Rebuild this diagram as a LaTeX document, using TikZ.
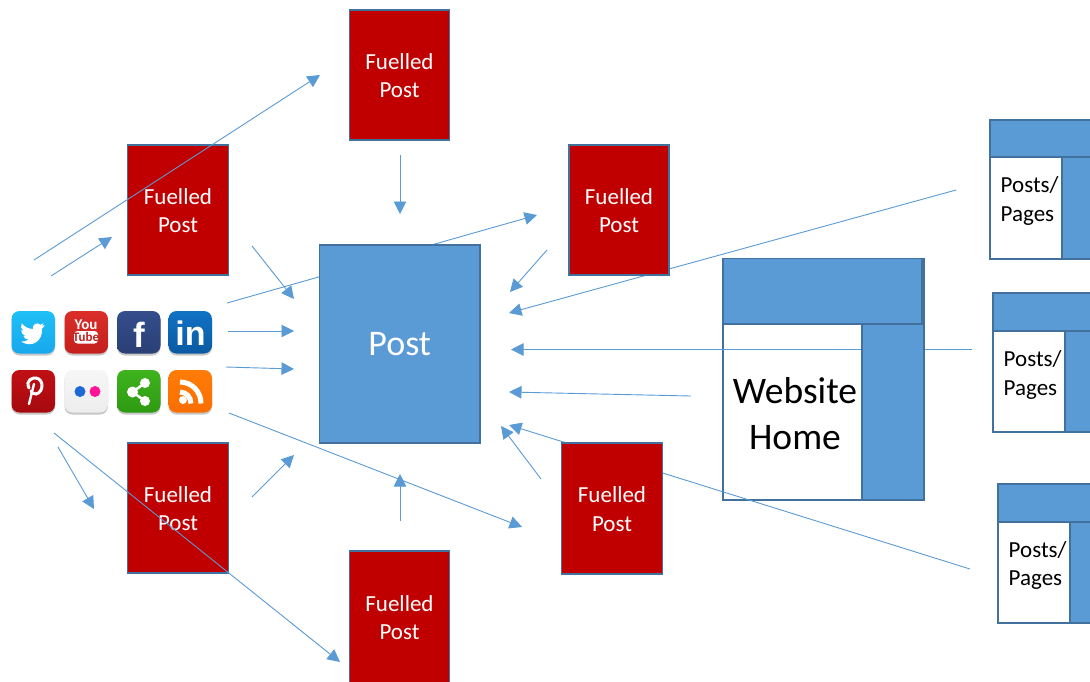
\documentclass[tikz,border=0pt]{standalone}
\usepackage{fontspec}
\setmainfont{Carlito}
\newfontfamily\iconfont{Liberation Sans}
\usetikzlibrary{arrows.meta}
\definecolor{accent}{HTML}{5B9BD5}
\definecolor{edge}{HTML}{41719C}
\definecolor{fuel}{HTML}{C00000}
\definecolor{twA}{HTML}{1FC0F8}\definecolor{twB}{HTML}{18A8EC}
\definecolor{ytA}{HTML}{DA2E29}\definecolor{ytB}{HTML}{C4201D}
\definecolor{fbA}{HTML}{344E8C}\definecolor{fbB}{HTML}{2A3F75}
\definecolor{liA}{HTML}{1172C4}\definecolor{liB}{HTML}{0A5AA2}
\definecolor{piA}{HTML}{C01015}\definecolor{piB}{HTML}{A50A0E}
\definecolor{flA}{HTML}{F6F6F6}\definecolor{flB}{HTML}{EDEDED}
\definecolor{shA}{HTML}{3FB31E}\definecolor{shB}{HTML}{2E9A12}
\definecolor{rsA}{HTML}{FF7C08}\definecolor{rsB}{HTML}{FA6E00}
\definecolor{flBlue}{HTML}{1D68D4}\definecolor{flPink}{HTML}{FF1497}
\tikzset{
  x=1pt,y=-1pt,
  box/.style={rectangle,draw=edge,line width=1.4pt,inner sep=0pt,outer sep=0pt},
  fuelled/.style={box,fill=fuel,text=white,align=center,font=\fontsize{23}{28.5}\selectfont,minimum width=100pt,minimum height=130pt},
  bluebox/.style={box,fill=accent},
  panel/.style={box},
  smalltext/.style={align=left,inner sep=0pt,font=\fontsize{23}{28.5}\selectfont},
  link/.style={draw=accent,line width=0.9pt,-{Triangle[length=12.5pt,width=12.5pt]}},
  glyph/.style={text=white,inner sep=0pt},
}
\newcommand{\fueltext}{\rule{0pt}{17.5pt}Fuelled\\Post}
% icon base: x, y (top-left), top colour, bottom colour
\newcommand{\iconbase}[4]{%
  \fill[black!22,rounded corners=8pt] (#1,#2+1.5) rectangle +(43.5,43);
  \shade[top color=#3,bottom color=#4,rounded corners=8pt] (#1,#2) rectangle +(43.5,42.5);
}
\begin{document}
\begin{tikzpicture}
\clip (0,0) rectangle (1090,681);
\fill[white] (0,0) rectangle (1090,681);

% --- layer below the connectors
\node[panel,minimum width=139pt,minimum height=176pt] (homepanel) at (792.5,412) {};
\node[fuelled,minimum width=101pt] (fb) at (178,210) {\fueltext};
\node[fuelled,minimum width=101pt] (fd) at (178,508) {\fueltext};

% --- connector ends
\coordinate (a1s) at (34,260);   \coordinate (a1e) at (320,75);
\coordinate (a2s) at (51,276);   \coordinate (a2e) at (112,237);
\coordinate (a3s) at (252,246);  \coordinate (a3e) at (294,299);
\coordinate (a4s) at (227,303);  \coordinate (a4e) at (537,215);
\coordinate (a5s) at (228,331);  \coordinate (a5e) at (294,331);
\coordinate (a6s) at (226,367);  \coordinate (a6e) at (294,369);
\coordinate (a7s) at (229,413);  \coordinate (a7e) at (522,527);
\coordinate (a8s) at (252,497);  \coordinate (a8e) at (294,455);
\coordinate (a9s) at (54,433);   \coordinate (a9e) at (340,662);
\coordinate (a10s) at (58,447);  \coordinate (a10e) at (94,509);
\coordinate (a11s) at (400,155); \coordinate (a11e) at (400,214);
\coordinate (a12s) at (400,521); \coordinate (a12e) at (400,474);
\coordinate (a13s) at (547,250); \coordinate (a13e) at (510,292);
\coordinate (a14s) at (956,190); \coordinate (a14e) at (509,313);
\coordinate (a15s) at (972,349.5); \coordinate (a15e) at (511,349.5);
\coordinate (a16s) at (691,396); \coordinate (a16e) at (509,392);
\coordinate (a17s) at (970,569); \coordinate (a17e) at (509,425);
\coordinate (a18s) at (541,479); \coordinate (a18e) at (501,426);

\foreach \i in {1,...,18} {\draw[link] (a\i s) -- (a\i e);}

% --- layer above the connectors
\node[bluebox,font=\fontsize{36}{44}\selectfont,text=white,minimum width=160.5pt,minimum height=198pt] (post) at (399.75,344) {\rule{0pt}{24pt}Post};
\node[fuelled] (fa) at (399.5,75) {\fueltext};
\node[fuelled] (fc) at (619,210) {\fueltext};
\node[fuelled,minimum width=101pt,minimum height=131pt] (fe) at (612,508.5) {\fueltext};
\node[fuelled,minimum height=136pt] (ff) at (399.5,619) {\rule{0pt}{17.5pt}Fuelled\\Post\rule[-5pt]{0pt}{5pt}};

% website home
\node[bluebox,minimum width=62pt,minimum height=241.5pt] (homecol) at (893,379.25) {};
\node[bluebox,minimum width=199pt,minimum height=65.5pt] (homehead) at (822.5,291.25) {};
\node[align=center,inner sep=0pt,font=\fontsize{37.5}{46}\selectfont] (hometext) at (795,414) {Website\\Home};

% posts / pages boxes
\node[panel,minimum width=72pt,minimum height=102pt] (p1) at (1026,208) {};
\node[bluebox,minimum width=110pt,minimum height=37pt] (p1h) at (1045,138.5) {};
\node[bluebox,minimum width=40pt,minimum height=102pt] (p1c) at (1082,208) {};
\node[smalltext,anchor=west] (p1t) at (1000.5,201) {Posts/\\Pages};

\node[panel,minimum width=72pt,minimum height=101pt] (p2) at (1029,381.5) {};
\node[bluebox,minimum width=110pt,minimum height=38pt] (p2h) at (1048,312) {};
\node[bluebox,minimum width=40pt,minimum height=101pt] (p2c) at (1085,381.5) {};
\node[smalltext,anchor=west] (p2t) at (1003.5,375) {Posts/\\Pages};

\node[panel,minimum width=72pt,minimum height=101pt] (p3) at (1034,572.5) {};
\node[bluebox,minimum width=110pt,minimum height=38pt] (p3h) at (1053,503) {};
\node[bluebox,minimum width=40pt,minimum height=101pt] (p3c) at (1090,572.5) {};
\node[smalltext,anchor=west] (p3t) at (1008.5,565.5) {Posts/\\Pages};

% --- social icons
% twitter
\iconbase{11.5}{311}{twA}{twB}
\fill[white] (44.5,325) .. controls (43.5,325.6) and (42.5,325.9) .. (41.5,326)
  .. controls (42.6,325.3) and (43.3,324.5) .. (43.7,323.4)
  .. controls (42.7,324) and (41.6,324.4) .. (40.4,324.7)
  .. controls (37,321.5) and (32,324.5) .. (33,329)
  .. controls (28.5,328.8) and (24.5,326.8) .. (21.7,323.4)
  .. controls (20.3,326) and (21,329.2) .. (23.4,330.8)
  .. controls (22.6,330.8) and (21.9,330.6) .. (21.2,330.2)
  .. controls (21.2,333) and (23,335.2) .. (25.6,335.8)
  .. controls (24.9,336) and (24.1,336) .. (23.4,335.9)
  .. controls (24.1,338) and (26,339.5) .. (28.3,339.6)
  .. controls (26.2,341.2) and (23.6,341.9) .. (21,341.6)
  .. controls (32,348.5) and (43,341) .. (42,328.5)
  .. controls (43,327.8) and (43.9,327) .. (44.5,325) -- cycle;
% youtube
\iconbase{64.5}{311}{ytA}{ytB}
\node[glyph,font=\fontsize{15}{15}\selectfont\bfseries] (ytyou) at (86,324.5) {You};
\fill[white,rounded corners=3.5pt] (74,331) rectangle (98,343.5);
\node[inner sep=0pt,text=ytB,font=\fontsize{13}{13}\selectfont\bfseries] (yttube) at (86,337.2) {Tube};
% facebook
\iconbase{117}{311}{fbA}{fbB}
\node[glyph,font=\fontsize{35}{35}\iconfont\bfseries] (fbf) at (139,335) {f};
% linkedin
\iconbase{168.5}{311}{liA}{liB}
\node[glyph,font=\fontsize{34}{34}\iconfont\bfseries] (liin) at (190.5,333.5) {in};
% pinterest
\iconbase{11.5}{370}{piA}{piB}
\draw[white,line width=3pt,line cap=round] (29,388) .. controls (25,380) and (33,377.5) .. (36,378)
  .. controls (44,379) and (44,392) .. (36,394) .. controls (33,394.5) and (31,392) .. (31,391);
\draw[white,line width=2.4pt,line cap=round] (34,384) -- (29,404);
% flickr
\iconbase{64.5}{370}{flA}{flB}
\fill[flBlue] (80,391.5) circle (5.5);
\fill[flPink] (95,391.5) circle (5.5);
% share
\iconbase{117}{370}{shA}{shB}
\draw[white,line width=2.5pt] (145,383) -- (132.5,392) -- (145,401);
\fill[white] (145,383) circle (5) (132.5,392) circle (5.5) (145,401) circle (5);
% rss
\iconbase{168.5}{370}{rsA}{rsB}
\fill[white] (183,400) circle (4);
\draw[white,line width=5pt] (180,392) .. controls (186,392) and (191,397) .. (191,403.5);
\draw[white,line width=5pt] (180,382) .. controls (191.6,382) and (201,391.4) .. (201,403.5);
\end{tikzpicture}
\end{document}
